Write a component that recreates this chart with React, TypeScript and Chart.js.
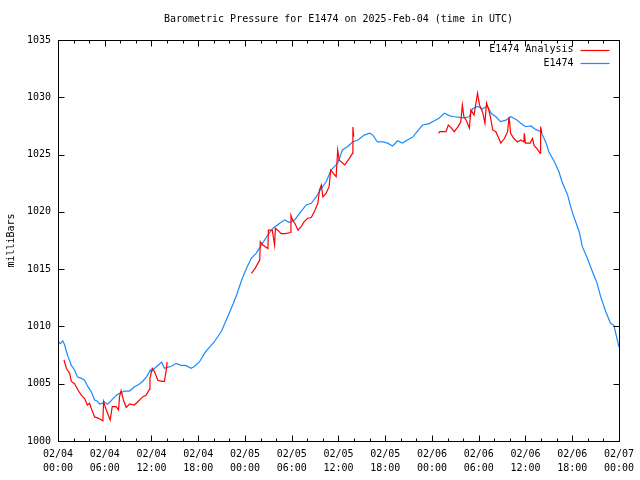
import React, { useEffect, useRef } from "react";
import { Chart, registerables } from "chart.js";

Chart.register(...registerables);

const TITLE = "Barometric Pressure for E1474 on 2025-Feb-04 (time in UTC)";
const Y_LABEL = "milliBars";
const SERIES_NAMES = ["E1474 Analysis", "E1474"];
const SERIES_COLORS = ["#ff0000", "#1a8aff"];

// x-axis: hours since 02/04 00:00 UTC
const X_MIN = 0;
const X_MAX = 72;
const X_MAJOR_STEP = 6;
const X_MINOR_STEP = 2;
const X_TICK_DATES = ["02/04", "02/04", "02/04", "02/04", "02/05", "02/05", "02/05", "02/05", "02/06", "02/06", "02/06", "02/06", "02/07"];
const X_TICK_TIMES = ["00:00", "06:00", "12:00", "18:00", "00:00", "06:00", "12:00", "18:00", "00:00", "06:00", "12:00", "18:00", "00:00"];

const Y_MIN = 1000;
const Y_MAX = 1035;
const Y_STEP = 5;

// E1474 station observations
const stationHours = [
  0.0, 0.3, 0.6, 0.85, 1.05, 1.28, 1.5, 1.71, 2.13, 2.48, 2.99, 3.41, 3.84, 4.27, 4.7, 5.0, 5.34, 5.7, 5.98, 6.3,
  6.62, 7.05, 7.5, 7.9, 8.54, 9.18, 9.82, 10.25, 10.5, 10.9, 11.36, 11.87, 12.0, 12.4, 13.0, 13.3, 13.66, 14.1, 14.5, 15.16,
  15.8, 16.4, 17.08, 17.5, 18.15, 18.8, 19.2, 19.6, 20.0, 20.5, 21.0, 21.5, 22.0, 22.5, 23.0, 23.6, 24.2, 24.8, 25.45, 26.1,
  26.95, 27.6, 28.45, 29.1, 29.7, 30.4, 31.0, 31.86, 32.5, 33.14, 33.8, 34.4, 35.06, 35.9, 36.5, 37.2, 37.8, 38.5, 39.3, 40.0,
  40.4, 41.0, 41.7, 42.3, 42.95, 43.6, 44.2, 44.9, 45.5, 46.2, 46.8, 47.65, 48.3, 48.9, 49.6, 50.2, 50.9, 51.5, 52.1, 52.8,
  53.2, 53.85, 54.5, 55.1, 55.6, 56.2, 56.8, 57.5, 58.1, 58.8, 59.4, 60.0, 60.7, 61.3, 61.97, 62.6, 63.0, 63.7, 64.3, 64.7,
  65.4, 65.8, 66.2, 66.9, 67.3, 67.95, 68.6, 69.2, 69.65, 70.3, 70.9, 71.35, 72.0,
];
const stationPressure = [
  1008.7, 1008.5, 1008.75, 1008.4, 1007.9, 1007.36, 1007.0, 1006.6, 1006.2, 1005.6, 1005.47, 1005.3, 1004.74, 1004.3, 1003.58, 1003.5, 1003.23, 1003.3, 1003.43, 1003.2,
  1003.35, 1003.7, 1004.0, 1004.16, 1004.36, 1004.36, 1004.74, 1004.89, 1005.0, 1005.24, 1005.6, 1006.2, 1006.05, 1006.35, 1006.7, 1006.9, 1006.35, 1006.45, 1006.5, 1006.78,
  1006.6, 1006.6, 1006.35, 1006.5, 1006.9, 1007.65, 1008.0, 1008.3, 1008.6, 1009.1, 1009.6, 1010.4, 1011.2, 1012.0, 1012.9, 1014.1, 1015.07, 1015.95, 1016.4, 1017.1,
  1018.0, 1018.57, 1019.0, 1019.3, 1019.06, 1019.3, 1019.87, 1020.6, 1020.75, 1021.3, 1022.05, 1022.6, 1023.65, 1024.24, 1025.4, 1025.7, 1026.1, 1026.27, 1026.7, 1026.86,
  1026.7, 1026.1, 1026.1, 1026.0, 1025.75, 1026.2, 1026.0, 1026.3, 1026.5, 1027.1, 1027.58, 1027.7, 1027.96, 1028.17, 1028.6, 1028.4, 1028.3, 1028.25, 1028.2, 1028.3,
  1029.0, 1029.2, 1029.0, 1029.24, 1028.6, 1028.3, 1027.87, 1028.0, 1028.3, 1028.07, 1027.73, 1027.43, 1027.5, 1027.2, 1027.0, 1026.1, 1025.25, 1024.4, 1023.5, 1022.6,
  1021.5, 1020.45, 1019.6, 1018.27, 1016.96, 1015.95, 1014.78, 1013.76, 1012.6, 1011.3, 1010.3, 1010.1, 1008.2,
];

// E1474 Analysis, three separate runs
const analysisHoursA = [
  0.77, 1.07, 1.5, 1.71, 2.13, 2.56, 2.99, 3.42, 3.76, 4.05, 4.27, 4.7, 5.12, 5.76, 5.85, 6.2, 6.7, 6.96, 7.48, 7.77,
  7.9, 8.1, 8.4, 8.75, 9.2, 9.8, 10.25, 10.9, 11.3, 11.74, 11.8, 12.1, 12.4, 12.8, 13.3, 13.66, 13.9, 14.0,
];
const analysisPressureA = [
  1007.07, 1006.35, 1005.9, 1005.2, 1005.0, 1004.45, 1004.0, 1003.7, 1003.14, 1003.3, 1002.85, 1002.1, 1002.0, 1001.77, 1003.43, 1002.7, 1001.83, 1003.0, 1003.0, 1002.7,
  1003.87, 1004.4, 1003.58, 1002.94, 1003.23, 1003.14, 1003.43, 1003.87, 1004.0, 1004.5, 1005.47, 1006.35, 1006.05, 1005.3, 1005.2, 1005.2, 1006.2, 1006.9,
];
const analysisHoursB = [
  24.8, 25.24, 25.66, 25.9, 25.96, 26.3, 26.95, 27.0, 27.5, 27.8, 27.9, 28.2, 28.65, 29.1, 29.5, 29.85, 29.9, 30.1, 30.4, 30.8,
  31.2, 31.6, 32.07, 32.5, 32.9, 33.35, 33.56, 33.8, 34.0, 34.4, 34.8, 35.0, 35.7, 35.9, 36.1, 36.8, 37.4, 37.8, 37.85, 37.96,
];
const analysisPressureB = [
  1014.64, 1015.0, 1015.5, 1015.8, 1017.4, 1017.1, 1016.8, 1018.4, 1018.4, 1017.1, 1018.57, 1018.4, 1018.1, 1018.1, 1018.15, 1018.2, 1019.7, 1019.3, 1019.0, 1018.4,
  1018.7, 1019.15, 1019.44, 1019.5, 1020.0, 1020.75, 1021.9, 1022.35, 1021.3, 1021.6, 1022.2, 1023.65, 1023.07, 1025.4, 1024.5, 1024.1, 1024.67, 1025.1, 1027.4, 1026.56,
];
const analysisHoursC = [
  48.85, 49.0, 49.8, 50.1, 50.4, 50.86, 51.3, 51.7, 51.9, 52.1, 52.4, 52.8, 53.0, 53.4, 53.85, 54.1, 54.5, 54.8, 55.0, 55.25,
  55.5, 55.8, 56.2, 56.84, 57.3, 57.7, 57.9, 58.1, 58.5, 59.0, 59.4, 59.8, 59.85, 60.0, 60.6, 60.9, 61.1, 61.5, 61.9, 61.95, 62.1,
];
const analysisPressureC = [
  1026.86, 1027.0, 1027.0, 1027.58, 1027.4, 1027.0, 1027.4, 1027.87, 1029.33, 1028.3, 1028.0, 1027.3, 1028.9, 1028.45, 1030.35, 1029.33, 1028.7, 1027.73, 1029.5, 1029.0,
  1028.3, 1027.15, 1027.0, 1026.0, 1026.4, 1027.0, 1028.3, 1026.86, 1026.4, 1026.1, 1026.27, 1026.1, 1026.86, 1026.0, 1026.0, 1026.4, 1025.8, 1025.5, 1025.1, 1027.43, 1026.86,
];

const FONT_FAMILY = "'DejaVu Sans Mono', 'Liberation Mono', monospace";
const FONT_SIZE = 10;

type Pt = { x: number; y: number | null };

function zip(xs: number[], ys: number[]): Pt[] {
  return xs.map((x, i) => ({ x, y: ys[i] }));
}

function joinRuns(runs: Pt[][]): Pt[] {
  const out: Pt[] = [];
  runs.forEach((r, i) => {
    if (i > 0) out.push({ x: (out[out.length - 1].x + r[0].x) / 2, y: null });
    out.push(...r);
  });
  return out;
}

const gnuplotFrame = {
  id: "gnuplotFrame",
  afterDraw(chart: any) {
    const { ctx, chartArea } = chart;
    const xs = chart.scales.x;
    const ys = chart.scales.y;
    const L = Math.round(chartArea.left) + 0.5;
    const R = Math.round(chartArea.right) + 0.5;
    const T = Math.round(chartArea.top) + 0.5;
    const B = Math.round(chartArea.bottom) + 0.5;
    ctx.save();
    ctx.strokeStyle = "#000";
    ctx.lineWidth = 1;
    ctx.beginPath();
    ctx.rect(L, T, R - L, B - T);
    ctx.stroke();
    ctx.beginPath();
    for (let h = X_MIN; h <= X_MAX; h += X_MINOR_STEP) {
      const px = Math.round(xs.getPixelForValue(h)) + 0.5;
      const len = h % X_MAJOR_STEP === 0 ? 6 : 3;
      ctx.moveTo(px, B);
      ctx.lineTo(px, B - len);
      ctx.moveTo(px, T);
      ctx.lineTo(px, T + len);
    }
    for (let v = Y_MIN; v <= Y_MAX; v += Y_STEP) {
      const py = Math.round(ys.getPixelForValue(v)) + 0.5;
      ctx.moveTo(L, py);
      ctx.lineTo(L + 6, py);
      ctx.moveTo(R, py);
      ctx.lineTo(R - 6, py);
    }
    ctx.stroke();

    ctx.fillStyle = "#000";
    ctx.font = `${FONT_SIZE}px ${FONT_FAMILY}`;
    ctx.textAlign = "center";
    ctx.textBaseline = "middle";
    ctx.fillText(TITLE, (chartArea.left + chartArea.right) / 2, 19);

    ctx.save();
    ctx.translate(11, (chartArea.top + chartArea.bottom) / 2);
    ctx.rotate(-Math.PI / 2);
    ctx.fillText(Y_LABEL, 0, 0);
    ctx.restore();

    const textRight = R - 46;
    const lineL = R - 39;
    const lineR = R - 10;
    SERIES_NAMES.forEach((name, i) => {
      const y = T + 9 + i * 13.5;
      ctx.textAlign = "right";
      ctx.fillStyle = "#000";
      ctx.fillText(name, textRight, y);
      ctx.strokeStyle = SERIES_COLORS[i];
      ctx.lineWidth = 1.2;
      ctx.beginPath();
      ctx.moveTo(lineL, Math.round(y) + 0.5);
      ctx.lineTo(lineR, Math.round(y) + 0.5);
      ctx.stroke();
    });
    ctx.restore();
  },
};

export default function App() {
  const ref = useRef<HTMLCanvasElement | null>(null);
  useEffect(() => {
    if (!ref.current) return;
    const analysis = joinRuns([
      zip(analysisHoursA, analysisPressureA),
      zip(analysisHoursB, analysisPressureB),
      zip(analysisHoursC, analysisPressureC),
    ]);
    const station = zip(stationHours, stationPressure);
    const font = { family: FONT_FAMILY, size: FONT_SIZE, lineHeight: 1.4 };
    const chart = new Chart(ref.current, {
      type: "line",
      data: {
        datasets: [
          {
            label: SERIES_NAMES[0],
            data: analysis as any,
            borderColor: SERIES_COLORS[0],
            borderWidth: 1.2,
            pointRadius: 0,
            tension: 0,
            spanGaps: false,
            fill: false,
          },
          {
            label: SERIES_NAMES[1],
            data: station as any,
            borderColor: SERIES_COLORS[1],
            borderWidth: 1.2,
            pointRadius: 0,
            tension: 0,
            fill: false,
          },
        ],
      },
      options: {
        responsive: false,
        animation: false,
        events: [],
        layout: { padding: { left: 0, right: 20, top: 40, bottom: 0 } },
        plugins: {
          legend: { display: false },
          title: { display: false },
          tooltip: { enabled: false },
        },
        scales: {
          x: {
            type: "linear",
            min: X_MIN,
            max: X_MAX,
            afterFit: (s: any) => {
              s.height = 39;
            },
            afterBuildTicks: (s: any) => {
              const t = [];
              for (let h = X_MIN; h <= X_MAX; h += X_MAJOR_STEP) t.push({ value: h });
              s.ticks = t;
            },
            ticks: {
              autoSkip: false,
              maxRotation: 0,
              minRotation: 0,
              padding: 6,
              color: "#000",
              font,
              callback: (v: any) => {
                const i = Math.round((Number(v) - X_MIN) / X_MAJOR_STEP);
                return [X_TICK_DATES[i], X_TICK_TIMES[i]];
              },
            },
            grid: { display: false, drawTicks: false },
            border: { display: false },
          },
          y: {
            min: Y_MIN,
            max: Y_MAX,
            afterFit: (s: any) => {
              s.width = 58;
            },
            ticks: {
              stepSize: Y_STEP,
              padding: 7,
              color: "#000",
              font: { family: FONT_FAMILY, size: FONT_SIZE },
              callback: (v: any) => String(v),
            },
            grid: { display: false, drawTicks: false },
            border: { display: false },
          },
        },
      },
      plugins: [gnuplotFrame],
    });
    return () => chart.destroy();
  }, []);
  return (
    <div style={{ position: "absolute", left: 0, top: 0, width: 640, height: 480, background: "#fff" }}>
      <canvas ref={ref} width={640} height={480} style={{ display: "block" }} />
    </div>
  );
}
